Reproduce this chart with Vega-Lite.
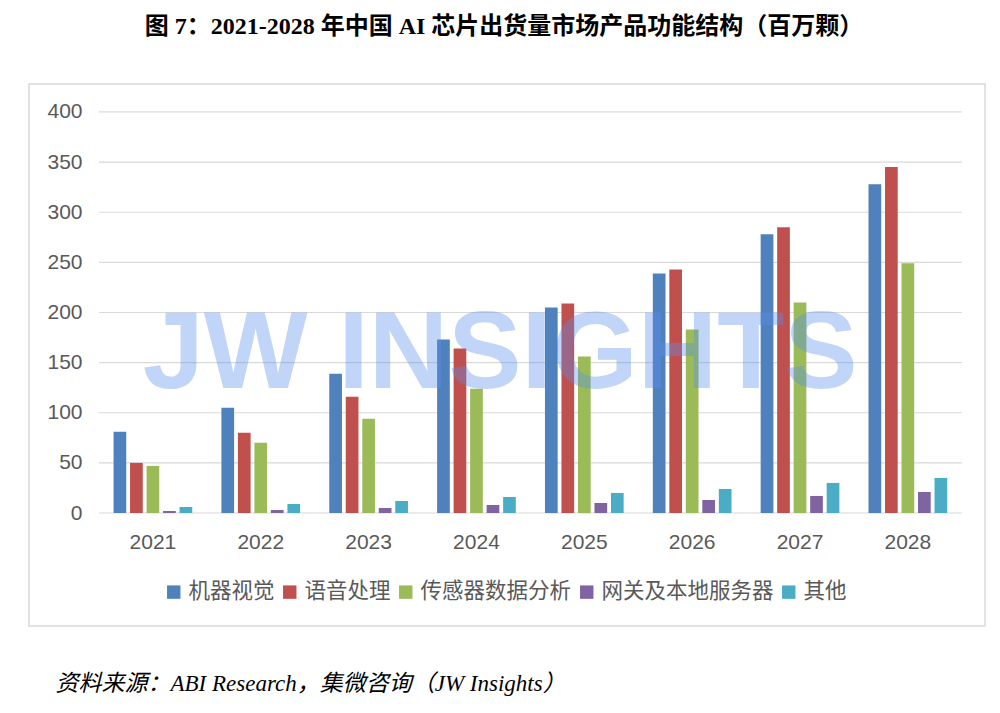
{
  "$schema": "https://vega.github.io/schema/vega-lite/v6.json",
  "width": 956,
  "height": 542,
  "autosize": {"type": "none"},
  "padding": {"left": 29, "top": 84, "right": 15, "bottom": 87},
  "background": "white",
  "title": {
    "text": "图 7：2021-2028 年中国 AI 芯片出货量市场产品功能结构（百万颗）",
    "font": "Liberation Serif, Noto Sans CJK SC",
    "fontSize": 24,
    "fontWeight": "bold",
    "color": "black",
    "anchor": "middle",
    "frame": "group",
    "offset": 45,
    "dx": -3
  },
  "config": {
    "view": {"stroke": "#d9d9d9", "strokeWidth": 1.5},
    "font": "Liberation Sans, Noto Sans CJK SC"
  },
  "datasets": {
    "shipments": [
      {"year": "2021", "type": "机器视觉", "value": 81},
      {"year": "2021", "type": "语音处理", "value": 50},
      {"year": "2021", "type": "传感器数据分析", "value": 47},
      {"year": "2021", "type": "网关及本地服务器", "value": 2},
      {"year": "2021", "type": "其他", "value": 6},
      {"year": "2022", "type": "机器视觉", "value": 105},
      {"year": "2022", "type": "语音处理", "value": 80},
      {"year": "2022", "type": "传感器数据分析", "value": 70},
      {"year": "2022", "type": "网关及本地服务器", "value": 3},
      {"year": "2022", "type": "其他", "value": 9},
      {"year": "2023", "type": "机器视觉", "value": 139},
      {"year": "2023", "type": "语音处理", "value": 116},
      {"year": "2023", "type": "传感器数据分析", "value": 94},
      {"year": "2023", "type": "网关及本地服务器", "value": 5},
      {"year": "2023", "type": "其他", "value": 12},
      {"year": "2024", "type": "机器视觉", "value": 173},
      {"year": "2024", "type": "语音处理", "value": 164},
      {"year": "2024", "type": "传感器数据分析", "value": 124},
      {"year": "2024", "type": "网关及本地服务器", "value": 8},
      {"year": "2024", "type": "其他", "value": 16},
      {"year": "2025", "type": "机器视觉", "value": 205},
      {"year": "2025", "type": "语音处理", "value": 209},
      {"year": "2025", "type": "传感器数据分析", "value": 156},
      {"year": "2025", "type": "网关及本地服务器", "value": 10},
      {"year": "2025", "type": "其他", "value": 20},
      {"year": "2026", "type": "机器视觉", "value": 239},
      {"year": "2026", "type": "语音处理", "value": 243},
      {"year": "2026", "type": "传感器数据分析", "value": 183},
      {"year": "2026", "type": "网关及本地服务器", "value": 13},
      {"year": "2026", "type": "其他", "value": 24},
      {"year": "2027", "type": "机器视觉", "value": 278},
      {"year": "2027", "type": "语音处理", "value": 285},
      {"year": "2027", "type": "传感器数据分析", "value": 210},
      {"year": "2027", "type": "网关及本地服务器", "value": 17},
      {"year": "2027", "type": "其他", "value": 30},
      {"year": "2028", "type": "机器视觉", "value": 328},
      {"year": "2028", "type": "语音处理", "value": 345},
      {"year": "2028", "type": "传感器数据分析", "value": 249},
      {"year": "2028", "type": "网关及本地服务器", "value": 21},
      {"year": "2028", "type": "其他", "value": 35}
    ],
    "grid": [
      {"value": 0}, {"value": 50}, {"value": 100}, {"value": 150}, {"value": 200},
      {"value": 250}, {"value": 300}, {"value": 350}, {"value": 400}
    ]
  },
  "layer": [
    {
      "data": {"name": "grid"},
      "mark": {"type": "rule", "color": "#d9d9d9", "strokeWidth": 1.2},
      "encoding": {
        "y": {
          "field": "value",
          "type": "quantitative",
          "axis": {
            "title": null,
            "values": [0, 50, 100, 150, 200, 250, 300, 350, 400],
            "offset": -58,
            "labelPadding": 5,
            "ticks": false,
            "domain": false,
            "grid": false,
            "labelFontSize": 21,
            "labelColor": "#595959"
          }
        },
        "x": {
          "datum": "2021",
          "type": "nominal",
          "bandPosition": 0,
          "axis": {
            "title": "资料来源：ABI Research，集微咨询（JW Insights）",
            "titleFont": "Liberation Serif, Noto Sans CJK SC",
            "titleFontStyle": "italic",
            "titleFontWeight": "normal",
            "titleFontSize": 23,
            "titleColor": "black",
            "titleX": 26,
            "titleY": 170,
            "titleAlign": "left",
            "titleAnchor": "start",
            "titleBaseline": "middle",
            "offset": -113,
            "domain": false,
            "ticks": false,
            "grid": false,
            "labelPadding": 18,
            "labelFontSize": 21,
            "labelColor": "#595959",
            "labelAngle": 0
          }
        },
        "x2": {"datum": "2028", "bandPosition": 1}
      }
    },
    {
      "data": {"name": "shipments"},
      "mark": {"type": "bar"},
      "encoding": {
        "x": {
          "field": "year",
          "type": "nominal",
          "scale": {"paddingInner": 0, "paddingOuter": 0.432, "align": 0.751},
          "axis": {
            "title": "资料来源：ABI Research，集微咨询（JW Insights）",
            "titleFont": "Liberation Serif, Noto Sans CJK SC",
            "titleFontStyle": "italic",
            "titleFontWeight": "normal",
            "titleFontSize": 23,
            "titleColor": "black",
            "titleX": 26,
            "titleY": 170,
            "titleAlign": "left",
            "titleAnchor": "start",
            "titleBaseline": "middle",
            "offset": -113,
            "domain": false,
            "ticks": false,
            "grid": false,
            "labelPadding": 18,
            "labelFontSize": 21,
            "labelColor": "#595959",
            "labelAngle": 0
          }
        },
        "xOffset": {
          "field": "type",
          "type": "nominal",
          "sort": ["机器视觉", "语音处理", "传感器数据分析", "网关及本地服务器", "其他"],
          "scale": {"paddingInner": 0.23, "paddingOuter": 0.883}
        },
        "y": {
          "field": "value",
          "type": "quantitative",
          "scale": {"domain": [-112.7, 427.9], "nice": false, "zero": false},
          "axis": {
            "title": null,
            "values": [0, 50, 100, 150, 200, 250, 300, 350, 400],
            "offset": -58,
            "labelPadding": 5,
            "ticks": false,
            "domain": false,
            "grid": false,
            "labelFontSize": 21,
            "labelColor": "#595959"
          }
        },
        "color": {
          "field": "type",
          "type": "nominal",
          "scale": {
            "domain": ["机器视觉", "语音处理", "传感器数据分析", "网关及本地服务器", "其他"],
            "range": ["#4F81BD", "#C0504D", "#9BBB59", "#8064A2", "#4BACC6"]
          },
          "legend": {
            "orient": "none",
            "legendX": 134,
            "legendY": 497,
            "padding": 0,
            "direction": "horizontal",
            "title": null,
            "symbolType": "square",
            "symbolSize": 180,
            "symbolStrokeWidth": 0,
            "labelFontSize": 21.5,
            "labelColor": "#595959",
            "labelLimit": 0,
            "labelOffset": 4,
            "columnPadding": 4
          }
        }
      }
    },
    {
      "data": {"values": [{"label": "JW INSIGHTS"}]},
      "mark": {
        "type": "text",
        "font": "Liberation Sans",
        "fontWeight": "bold",
        "fontSize": 110,
        "color": "#5a8ff0",
        "opacity": 0.37,
        "align": "center",
        "baseline": "middle"
      },
      "encoding": {
        "x": {
          "datum": "2024",
          "type": "nominal",
          "bandPosition": 0.72,
          "axis": {
            "title": "资料来源：ABI Research，集微咨询（JW Insights）",
            "titleFont": "Liberation Serif, Noto Sans CJK SC",
            "titleFontStyle": "italic",
            "titleFontWeight": "normal",
            "titleFontSize": 23,
            "titleColor": "black",
            "titleX": 26,
            "titleY": 170,
            "titleAlign": "left",
            "titleAnchor": "start",
            "titleBaseline": "middle",
            "offset": -113,
            "domain": false,
            "ticks": false,
            "grid": false,
            "labelPadding": 18,
            "labelFontSize": 21,
            "labelColor": "#595959",
            "labelAngle": 0
          }
        },
        "y": {
          "datum": 158,
          "type": "quantitative",
          "axis": {
            "title": null,
            "values": [0, 50, 100, 150, 200, 250, 300, 350, 400],
            "offset": -58,
            "labelPadding": 5,
            "ticks": false,
            "domain": false,
            "grid": false,
            "labelFontSize": 21,
            "labelColor": "#595959"
          }
        },
        "text": {"field": "label"}
      }
    }
  ]
}
